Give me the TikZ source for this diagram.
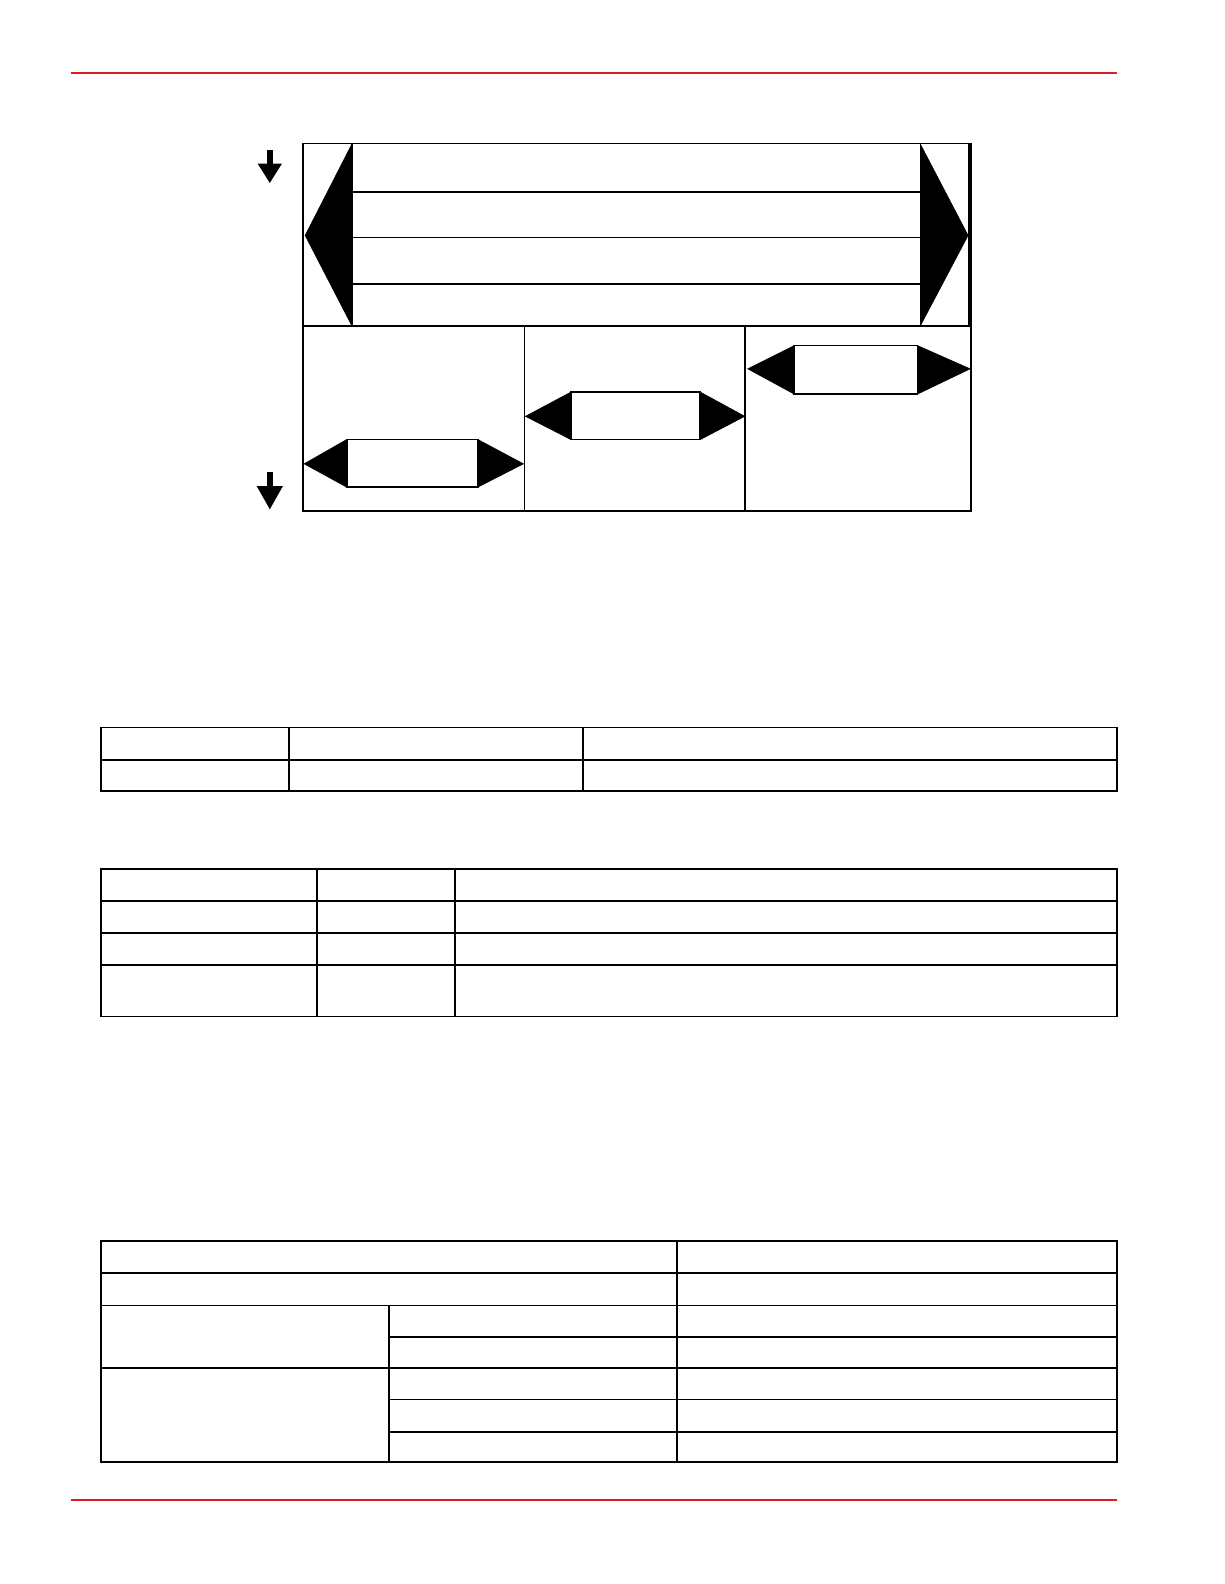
\documentclass[tikz,border=0pt]{standalone}
\begin{document}
\begin{tikzpicture}[x=1pt,y=-1pt,
  ln/.style={line width=1.8pt,black},
  redrule/.style={line width=2pt,color={rgb,255:red,220;green,30;blue,35}},
  blk/.style={fill=black,draw=black,line width=0.6pt,line join=miter},
  dnarrow/.style={fill=black}]
\useasboundingbox (0,0) rectangle (1224,1584);
\begin{scope}[scale=1.0105]
% red rules
\draw[redrule] (70,72) -- (1105,72);
\draw[redrule] (70,1484) -- (1105,1484);
% ---- diagram ----
\draw[ln] (300,142) rectangle (961,506);
\draw[ln] (300,323) -- (961,323);
\draw[line width=3pt] (959.5,142) -- (959.5,323);
\draw[ln] (348,142) -- (348,323);
\draw[ln] (911,142) -- (911,323);
\foreach \y in {190,235,281} \draw[ln] (348,\y) -- (911,\y);
\fill[blk] (348,143) -- (302,233) -- (348,322) -- cycle;
\fill[blk] (911,143) -- (958,233) -- (911,322) -- cycle;
\draw[ln] (519,323) -- (519,506);
\draw[ln] (737,323) -- (737,506);
% lower-left double arrow
\fill[blk] (343,435) -- (301,459) -- (343,482) -- cycle;
\fill[blk] (473,435) -- (518,459) -- (473,482) -- cycle;
\draw[ln] (343,435) rectangle (473,482);
% middle double arrow
\fill[blk] (565,388) -- (520,412) -- (565,435) -- cycle;
\fill[blk] (693,388) -- (737,412) -- (693,435) -- cycle;
\draw[ln] (565,388) rectangle (693,435);
% right double arrow
\fill[blk] (786,342) -- (740,365) -- (786,390) -- cycle;
\fill[blk] (908,342) -- (960,365) -- (908,390) -- cycle;
\draw[ln] (786,342) rectangle (908,390);
% small down arrows
\fill[dnarrow] (264,148) rectangle (270,163);
\fill[dnarrow] (255,162) -- (279,162) -- (267,181) -- cycle;
\fill[dnarrow] (264,467) rectangle (270,482);
\fill[dnarrow] (254,481) -- (280,481) -- (267,504) -- cycle;
% ---- table 1 ----
\draw[ln] (100,720) rectangle (1105,783);
\draw[ln] (100,752) -- (1105,752);
\draw[ln] (286,720) -- (286,783);
\draw[ln] (577,720) -- (577,783);
% ---- table 2 ----
\draw[ln] (100,860) rectangle (1105,1006);
\foreach \y in {892,923,955} \draw[ln] (100,\y) -- (1105,\y);
\draw[ln] (314,860) -- (314,1006);
\draw[ln] (450,860) -- (450,1006);
% ---- table 3 ----
\draw[ln] (100,1228) rectangle (1105,1447);
\foreach \y in {1260,1292,1354} \draw[ln] (100,\y) -- (1105,\y);
\foreach \y in {1323,1385,1417} \draw[ln] (385,\y) -- (1105,\y);
\draw[ln] (670,1228) -- (670,1447);
\draw[ln] (385,1292) -- (385,1447);
\end{scope}
\end{tikzpicture}
\end{document}
